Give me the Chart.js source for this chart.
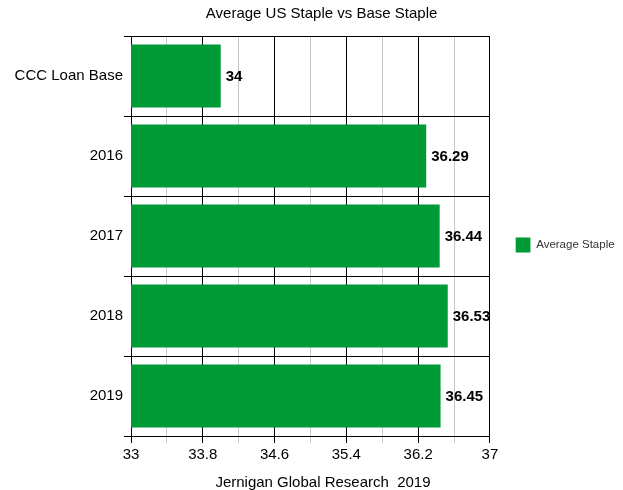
<!DOCTYPE html>
<html>
<head>
<meta charset="utf-8">
<script src="https://cdn.jsdelivr.net/npm/chart.js@4"></script>
<style>
    html, body { margin: 0; padding: 0; background: #fff; }
    #wrap { width: 623px; height: 490px; }
</style>
</head>
<body>
<div id="wrap"><canvas id="stapleChart" width="623" height="490"></canvas></div>
<script>
// chart data
const categories = ['CCC Loan Base', '2016', '2017', '2018', '2019'];
const stapleValues = [34, 36.29, 36.44, 36.53, 36.45];
const valueLabels = ['34', '36.29', '36.44', '36.53', '36.45'];
const seriesName = 'Average Staple';
const chartTitle = 'Average US Staple vs Base Staple';
const xAxisTitle = 'Jernigan Global Research  2019';
const xMin = 33;
const xMax = 37;
const xStep = 0.4;

const barGreen = '#009a36';
const fontFamily = '"Liberation Sans", Arial, sans-serif';

// the original centres its titles a little right of the plot centre
function nudge(n) { return '\u00a0'.repeat(n); }

// draws the value to the right of each bar
const valueLabelPlugin = {
    id: 'valueLabels',
    afterDatasetsDraw: function (chart) {
        const ctx = chart.ctx;
        const meta = chart.getDatasetMeta(0);
        ctx.save();
        ctx.font = 'bold 15px ' + fontFamily;
        ctx.fillStyle = '#000';
        ctx.textBaseline = 'middle';
        ctx.textAlign = 'left';
        meta.data.forEach(function (bar, i) {
            ctx.fillText(valueLabels[i], bar.x + 5, bar.y + 1);
        });
        ctx.restore();
    }
};

const ctx = document.getElementById('stapleChart').getContext('2d');

const config = {
    type: 'bar',
    data: {
        labels: categories,
        datasets: [{
            label: seriesName,
            data: stapleValues,
            backgroundColor: barGreen,
            borderWidth: 0,
            categoryPercentage: 0.79,
            barPercentage: 1.0
        }]
    },
    options: {
        indexAxis: 'y',
        responsive: false,
        animation: false,
        layout: {
            padding: { left: 10, right: 6.5, top: 0, bottom: 0 }
        },
        scales: {
            x: {
                min: xMin,
                max: xMax,
                ticks: {
                    stepSize: xStep,
                    color: '#000',
                    font: { family: fontFamily, size: 15 },
                    padding: 3,
                    autoSkip: false,
                    maxRotation: 0,
                    callback: function (value, index) {
                        // only every other tick gets a label
                        return index % 2 === 0 ? String(Math.round(value * 10) / 10) : '';
                    }
                },
                grid: {
                    color: function (c) { return c.index % 2 === 0 ? '#000' : '#c8c8c8'; },
                    lineWidth: 1,
                    tickLength: 7
                },
                border: { color: '#000' },
                title: {
                    display: true,
                    text: nudge(6) + xAxisTitle,
                    color: '#000',
                    font: { family: fontFamily, size: 15, lineHeight: 1 },
                    padding: { top: 8, bottom: 0 }
                }
            },
            y: {
                ticks: {
                    color: '#000',
                    font: { family: fontFamily, size: 15 },
                    padding: 1
                },
                grid: {
                    offset: true,
                    color: '#000',
                    tickLength: 7
                },
                border: { color: '#000' },
                afterFit: function (scale) { scale.width = 121; }
            },
            // empty strip that keeps the legend away from the plot
            legendGap: {
                type: 'linear',
                axis: 'y',
                position: 'right',
                display: true,
                grid: { display: false, drawTicks: false },
                border: { display: false },
                ticks: { display: false },
                afterFit: function (scale) { scale.width = 25.5; }
            }
        },
        plugins: {
            title: {
                display: true,
                text: nudge(4) + chartTitle,
                color: '#000',
                font: { family: fontFamily, size: 15, weight: 'normal' },
                padding: { top: 5, bottom: 13 }
            },
            legend: {
                display: true,
                position: 'right',
                labels: {
                    boxWidth: 15,
                    boxHeight: 15,
                    color: '#333',
                    font: { family: fontFamily, size: 11.5 },
                    padding: 0
                }
            },
            tooltip: { enabled: false }
        }
    },
    plugins: [valueLabelPlugin]
};

const stapleChart = new Chart(ctx, config);
</script>
</body>
</html>
